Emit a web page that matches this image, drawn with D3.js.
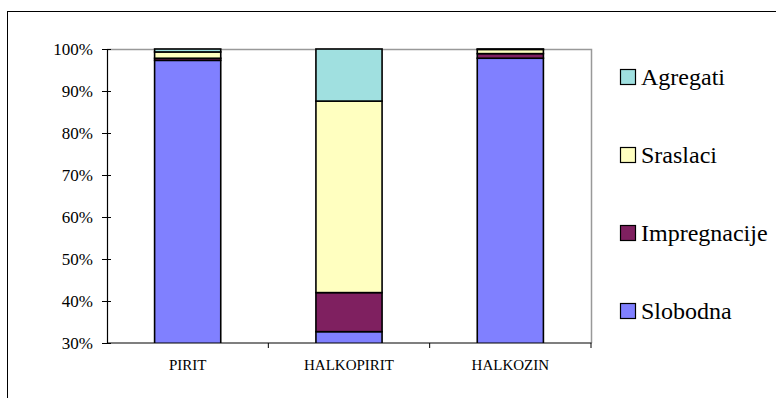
<!DOCTYPE html>
<html>
<head>
<meta charset="utf-8">
<script src="https://cdn.jsdelivr.net/npm/d3@7"></script>
<style>
  html, body { margin: 0; padding: 0; background: #fff; }
  svg { display: block; }
  svg text { font-family: "Liberation Serif", "Times New Roman", "DejaVu Serif", serif; fill: #000; }
</style>
</head>
<body>
<svg id="chart" width="776" height="398"></svg>
<script>
// Mineral categories along the x axis
const categories = ["PIRIT", "HALKOPIRIT", "HALKOZIN"];

// Stack series, bottom to top (percent of grains)
const seriesNames = ["Slobodna", "Impregnacije", "Sraslaci", "Agregati"];
const slobodna     = [97.3, 32.7, 97.8];
const impregnacije = [0.5, 9.3, 1.1];
const sraslaci     = [1.5, 45.6, 1.0];
const agregati     = [0.7, 12.4, 0.1];

const seriesColors = ["#8080ff", "#7f2060", "#ffffc0", "#a0e0e0"];

// Y axis ticks
const yTicks = [0.3, 0.4, 0.5, 0.6, 0.7, 0.8, 0.9, 1.0];

const rows = categories.map((c, i) => ({
  category: c,
  Slobodna: slobodna[i],
  Impregnacije: impregnacije[i],
  Sraslaci: sraslaci[i],
  Agregati: agregati[i]
}));

const serif = "'Liberation Serif', 'Times New Roman', 'DejaVu Serif', serif";
const svg = d3.select("#chart");

// Outer chart frame (extends past the right and bottom edges)
svg.append("rect")
  .attr("x", 7.5).attr("y", 11.5)
  .attr("width", 800).attr("height", 420)
  .attr("fill", "none").attr("stroke", "#000").attr("stroke-width", 1);

const plot = { left: 107, right: 591, top: 49, bottom: 343 };

const x = d3.scaleBand()
  .domain(categories)
  .range([plot.left, plot.right])
  .paddingInner(0.59)
  .paddingOuter(0.295);

const y = d3.scaleLinear()
  .domain([0.3, 1.0])
  .range([plot.bottom, plot.top]);

// Plot area border: grey on top and right
svg.append("path")
  .attr("d", `M${plot.left},${plot.top + 0.5}H${plot.right + 0.5}V${plot.bottom}`)
  .attr("fill", "none").attr("stroke", "#999").attr("stroke-width", 1.5);

// Stacked bars
const stacked = d3.stack().keys(seriesNames)(rows);

svg.append("clipPath").attr("id", "plotClip")
  .append("rect")
  .attr("x", plot.left).attr("y", plot.top - 2)
  .attr("width", plot.right - plot.left).attr("height", plot.bottom - plot.top + 2);

const bars = svg.append("g").attr("clip-path", "url(#plotClip)");
stacked.forEach((layer, li) => {
  bars.append("g")
    .selectAll("rect")
    .data(layer)
    .join("rect")
    .attr("x", d => x(d.data.category))
    .attr("width", x.bandwidth())
    .attr("y", d => y(d[1] / 100))
    .attr("height", d => Math.max(0, y(d[0] / 100) - y(d[1] / 100)))
    .attr("fill", seriesColors[li])
    .attr("stroke", "#000")
    .attr("stroke-width", 1.6);
});

// Y axis with crossing tick marks
const yAxis = d3.axisLeft(y)
  .tickValues(yTicks)
  .tickFormat(d3.format(".0%"))
  .tickSizeInner(5)
  .tickSizeOuter(0)
  .tickPadding(9);
const yg = svg.append("g")
  .attr("transform", `translate(${plot.left},0)`)
  .call(yAxis)
  .attr("font-family", null)
  .attr("font-size", null);
yg.select(".domain").attr("stroke", "#000").attr("stroke-width", 1.2);
yg.selectAll(".tick line").attr("x1", 4).attr("x2", -5).attr("stroke", "#000");
yg.selectAll(".tick text")
  .style("font-family", serif)
  .style("font-size", "17px")
  .attr("dy", "0.34em");

// X axis: ticks at band boundaries, labels centered in bands
svg.append("line")
  .attr("x1", plot.left).attr("x2", plot.right + 0.5)
  .attr("y1", plot.bottom).attr("y2", plot.bottom)
  .attr("stroke", "#000").attr("stroke-width", 1.2);

const boundaries = categories.slice(1)
  .map(c => x(c) - x.step() * x.paddingInner() / 2)
  .concat([plot.right]);
svg.append("g").selectAll("line")
  .data(boundaries)
  .join("line")
  .attr("x1", d => d).attr("x2", d => d)
  .attr("y1", plot.bottom).attr("y2", plot.bottom + 5)
  .attr("stroke", "#000");

svg.append("g").selectAll("text")
  .data(categories)
  .join("text")
  .attr("x", d => x(d) + x.bandwidth() / 2)
  .attr("y", 370)
  .attr("text-anchor", "middle")
  .style("font-family", serif)
  .style("font-size", "15px")
  .text(d => d);

// Legend, top to bottom in reverse stack order
const legendItems = seriesNames.map((n, i) => ({ name: n, color: seriesColors[i] })).reverse();
const legendBase = [85, 163, 241, 319];
const lg = svg.append("g");
legendItems.forEach((item, i) => {
  lg.append("rect")
    .attr("x", 620.5).attr("y", legendBase[i] - 15.5)
    .attr("width", 15).attr("height", 15)
    .attr("fill", item.color)
    .attr("stroke", "#000").attr("stroke-width", 1.2);
  lg.append("text")
    .attr("x", 641).attr("y", legendBase[i])
    .style("font-family", serif)
    .style("font-size", "24px")
    .text(item.name);
});
</script>
</body>
</html>
